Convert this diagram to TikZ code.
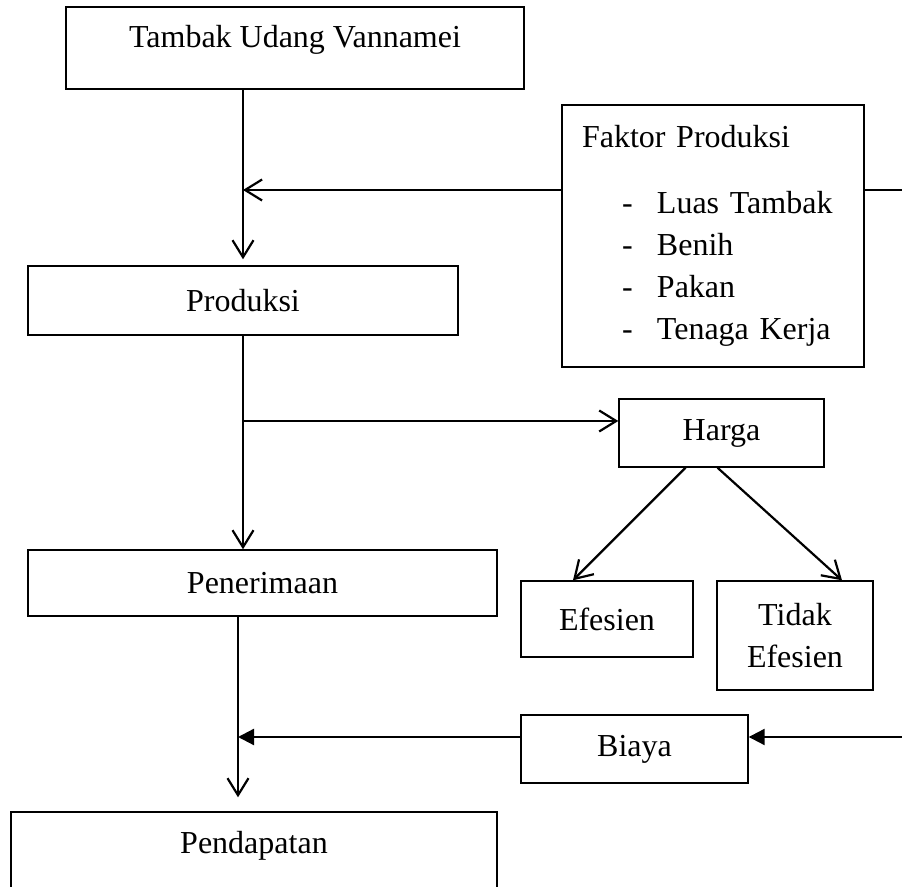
\documentclass[tikz,border=0pt]{standalone}
\usepackage{fontspec}
\setmainfont{Liberation Serif}
\usepackage{tikz}
\usetikzlibrary{positioning, arrows.meta, calc}
\newcommand{\butir}[1]{\hspace*{20pt}\makebox[17.5pt][l]{-}#1}

\begin{document}
\begin{tikzpicture}[x=0.5pt, y=-0.5pt,
    font=\fontsize{16}{21}\selectfont,
    kotak/.style={draw, line width=0.7pt, inner sep=0pt},
    teksatas/.style={text height=0.5em, text depth=0.5em},
    garis/.style={line width=1.1pt},
    panah/.style={garis, -{Straight Barb[length=8.5pt, width=10.5pt]}},
    panahpenuh/.style={garis, -{Triangle[length=8pt, width=8pt]}}]
    \useasboundingbox (0,0) rectangle (902,887);
    \clip (0,0) rectangle (902,887);
    \node[kotak, teksatas, minimum width=229pt, minimum height=41pt] (tambak) at (295,48) {Tambak Udang Vannamei};
    \node[kotak, minimum width=215pt, minimum height=34.5pt] (produksi) at (243,300.5) {Produksi};
    \node[kotak, align=left, text width=131pt, inner xsep=10pt, minimum width=151pt, minimum height=131pt] (faktor) at (713,236) {Faktor Produksi\\[12pt] \butir{Luas Tambak}\\ \butir{Benih}\\ \butir{Pakan}\\ \butir{Tenaga Kerja}};
    \node[kotak, minimum width=102.5pt, minimum height=34pt] (harga) at (721.5,433) {Harga};
    \node[kotak, minimum width=234.5pt, minimum height=33pt] (penerimaan) at (262.5,583) {Penerimaan};
    \node[kotak, minimum width=86pt, minimum height=38pt] (efesien) at (607,619) {Efesien};
    \node[kotak, align=center, minimum width=78pt, minimum height=54.5pt] (tidak) at (795,635.5) {Tidak\\Efesien};
    \node[kotak, minimum width=113.5pt, minimum height=34pt] (biaya) at (634.5,749) {Biaya};
    \node[kotak, teksatas, minimum width=243pt, minimum height=41.5pt] (pendapatan) at (254,853.5) {Pendapatan};

    \coordinate (masuk) at (243,190);
    \coordinate (tepi1) at (902,190);
    \coordinate (cabang) at (243,421);
    \coordinate (turun) at (238,737);
    \coordinate (tepi2) at (902,737);

    \draw[panah, shorten >=3pt] (tambak.south -| produksi.north) -- (produksi.north);
    \draw[panah] (faktor.west |- masuk) -- (masuk);
    \draw[garis] (faktor.east |- tepi1) -- (tepi1);
    \draw[panah] (produksi.south) -- (produksi.south |- penerimaan.north);
    \draw[panah] (cabang) -- (cabang -| harga.west);
    \draw[panah] ([xshift=-18pt]harga.south) -- ([xshift=-17pt]efesien.north);
    \draw[panah] ([xshift=-2pt]harga.south) -- ([xshift=23.5pt]tidak.north);
    \draw[panah, shorten >=7pt] (penerimaan.south -| turun) -- (pendapatan.north -| turun);
    \draw[panahpenuh] (biaya.west |- turun) -- (turun);
    \draw[panahpenuh] (tepi2) -- (tepi2 -| biaya.east);
\end{tikzpicture}
\end{document}
